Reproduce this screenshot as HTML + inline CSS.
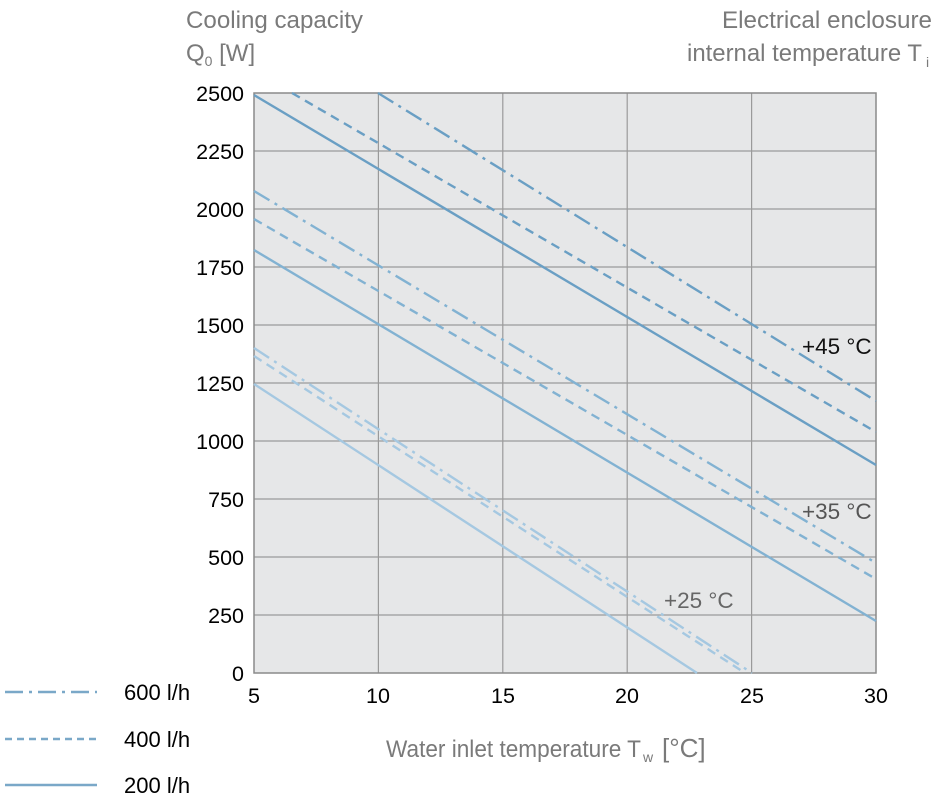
<!DOCTYPE html>
<html><head><meta charset="utf-8"><style>
body{margin:0;background:#fff}
svg text{font-family:"Liberation Sans",Arial,sans-serif}
</style></head><body>
<svg width="946" height="798" viewBox="0 0 946 798" xmlns="http://www.w3.org/2000/svg">
<rect x="254" y="93" width="622" height="580" fill="#e6e7e8"/>
<g stroke="#9a9a9a" stroke-width="1.2">
<line x1="378.4" y1="93" x2="378.4" y2="673"/><line x1="502.8" y1="93" x2="502.8" y2="673"/>
<line x1="627.2" y1="93" x2="627.2" y2="673"/><line x1="751.6" y1="93" x2="751.6" y2="673"/>
<line x1="254" y1="151" x2="876" y2="151"/><line x1="254" y1="209" x2="876" y2="209"/>
<line x1="254" y1="267" x2="876" y2="267"/><line x1="254" y1="325" x2="876" y2="325"/>
<line x1="254" y1="383" x2="876" y2="383"/><line x1="254" y1="441" x2="876" y2="441"/>
<line x1="254" y1="499" x2="876" y2="499"/><line x1="254" y1="557" x2="876" y2="557"/>
<line x1="254" y1="615" x2="876" y2="615"/>
</g>
<rect x="254" y="93" width="622" height="580" fill="none" stroke="#8a8a8a" stroke-width="1.5"/>
<g fill="none" stroke-width="2.4">
<line x1="254" y1="95" x2="876" y2="465" stroke="#6a9fc4"/>
<line x1="292" y1="93" x2="876" y2="432" stroke="#6a9fc4" stroke-dasharray="9,6"/>
<line x1="378" y1="93" x2="876" y2="401" stroke="#6a9fc4" stroke-dasharray="18,6,3,6"/>
<line x1="254" y1="250" x2="876" y2="621" stroke="#82b2d2"/>
<line x1="254" y1="219" x2="876" y2="579" stroke="#82b2d2" stroke-dasharray="9,6"/>
<line x1="254" y1="191" x2="876" y2="563" stroke="#82b2d2" stroke-dasharray="18,6,3,6"/>
<line x1="254" y1="384" x2="697" y2="673" stroke="#a5c8e1"/>
<line x1="254" y1="356" x2="745" y2="673" stroke="#a5c8e1" stroke-dasharray="9,6"/>
<line x1="254" y1="348" x2="752" y2="673" stroke="#a5c8e1" stroke-dasharray="18,6,3,6"/>
<line x1="5" y1="692" x2="97" y2="692" stroke="#7aa8c8" stroke-dasharray="18,6,3,6"/>
<line x1="5" y1="739" x2="97" y2="739" stroke="#7aa8c8" stroke-dasharray="7,5"/>
<line x1="5" y1="785" x2="97" y2="785" stroke="#7aa8c8"/>
</g>
<g font-size="21.5" fill="#000" text-anchor="end">
<text x="244" y="101">2500</text><text x="244" y="159">2250</text><text x="244" y="217">2000</text>
<text x="244" y="275">1750</text><text x="244" y="333">1500</text><text x="244" y="391">1250</text>
<text x="244" y="449">1000</text><text x="244" y="507">750</text><text x="244" y="565">500</text>
<text x="244" y="623">250</text><text x="244" y="681">0</text>
</g>
<g font-size="21.5" fill="#000" text-anchor="middle">
<text x="254" y="703">5</text><text x="378" y="703">10</text><text x="503" y="703">15</text>
<text x="627" y="703">20</text><text x="752" y="703">25</text><text x="876" y="703">30</text>
</g>
<g font-size="22" fill="#000">
<text x="124" y="700">600 l/h</text><text x="124" y="747">400 l/h</text><text x="124" y="793">200 l/h</text>
</g>
<text x="802" y="354" font-size="22.5" fill="#111">+45 °C</text>
<text x="802" y="519" font-size="22.5" fill="#555">+35 °C</text>
<text x="664" y="608" font-size="22.5" fill="#666">+25 °C</text>
<g font-size="24" fill="#7a7a7a">
<text x="186" y="28" textLength="177" lengthAdjust="spacingAndGlyphs">Cooling capacity</text>
<text x="186" y="61">Q<tspan font-size="14" dy="5">0</tspan><tspan dy="-5"> [W]</tspan></text>
<text x="722" y="28" textLength="210" lengthAdjust="spacingAndGlyphs">Electrical enclosure</text>
<text x="687" y="61" textLength="235" lengthAdjust="spacingAndGlyphs">internal temperature T</text>
<text x="926" y="67" font-size="14">i</text>
<text x="386" y="757" textLength="255" lengthAdjust="spacingAndGlyphs">Water inlet temperature T</text>
<text x="643" y="762" font-size="14">w</text>
<text x="662" y="757" font-size="26">[°C]</text>
</g>
</svg>
</body></html>
